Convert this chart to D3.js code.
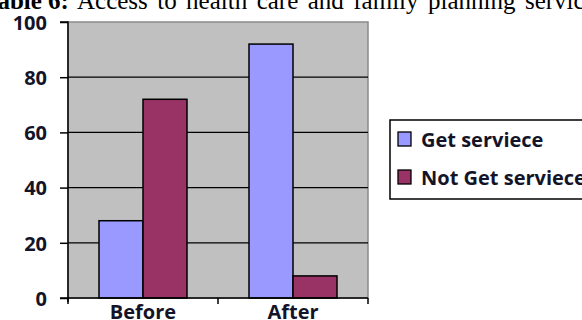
<!DOCTYPE html>
<html>
<head>
<meta charset="utf-8">
<script src="https://cdnjs.cloudflare.com/ajax/libs/d3/7.8.5/d3.min.js"></script>
<style>
  body { margin: 0; background: white; }
  svg { display: block; }
</style>
</head>
<body>
<script>
    "use strict";

    // data
    var categories = ["Before", "After"]
    var seriesNames = ["Get serviece", "Not Get serviece"]
    var getService = [28, 92]
    var notGetService = [72, 8]
    var yTicks = [0, 20, 40, 60, 80, 100]
    var colors = ["#9999ff", "#993366"]

    var width = 582
    var height = 320
    var plot = { left: 68, right: 368, top: 22, bottom: 298 }
    var labelFont = "'Open Sans', 'DejaVu Sans', sans-serif"
    var labelSize = "20px"

    var svg = d3.select("body").append("svg")
        .attr("width", width)
        .attr("height", height)

    // caption above the chart, top clipped like the scan (justified text -> extra word spacing)
    var caption = svg.append("text")
        .attr("x", -17)
        .attr("y", 9)
        .style("font-family", "'Liberation Serif', 'Times New Roman', serif")
        .style("font-size", "25px")
        .style("fill", "#000")
    caption.append("tspan").style("font-weight", "bold").text("Table 6:")
    caption.append("tspan").style("word-spacing", "3.2px")
        .text(" Access to health care and family planning services")

    var x0 = d3.scaleBand()
        .domain(categories)
        .range([plot.left, plot.right])

    var x1 = d3.scaleBand()
        .domain(seriesNames)
        .range([31, x0.bandwidth() - 31])

    var y = d3.scaleLinear()
        .domain([0, 100])
        .range([plot.bottom, plot.top])

    // plot area
    svg.append("rect")
        .attr("x", plot.left)
        .attr("y", plot.top)
        .attr("width", plot.right - plot.left)
        .attr("height", plot.bottom - plot.top)
        .style("fill", "#c0c0c0")
        .style("stroke", "#8a8a8a")
        .style("stroke-width", 1.5)

    // gridlines
    svg.append("g")
        .selectAll("line")
        .data(yTicks.filter(function(d) { return d > 0 && d < 100 }))
        .join("line")
        .attr("x1", plot.left)
        .attr("x2", plot.right)
        .attr("y1", function(d) { return y(d) })
        .attr("y2", function(d) { return y(d) })
        .style("stroke", "#000")
        .style("stroke-width", 1.3)

    // bars
    var rows = categories.map(function(c, i) {
        return [
            { cat: c, name: seriesNames[0], value: getService[i], color: colors[0] },
            { cat: c, name: seriesNames[1], value: notGetService[i], color: colors[1] }
        ]
    })

    svg.append("g")
        .selectAll("g")
        .data(rows)
        .join("g")
        .attr("transform", function(d) { return "translate(" + x0(d[0].cat) + ",0)" })
        .selectAll("rect")
        .data(function(d) { return d })
        .join("rect")
        .attr("x", function(d) { return x1(d.name) })
        .attr("width", x1.bandwidth())
        .attr("y", function(d) { return y(d.value) })
        .attr("height", function(d) { return y(0) - y(d.value) })
        .style("fill", function(d) { return d.color })
        .style("stroke", "#000")
        .style("stroke-width", 1.5)

    // y axis
    var yAxis = svg.append("g")
        .attr("transform", "translate(" + plot.left + ",0)")
        .call(d3.axisLeft(y).tickValues(yTicks).tickSize(8).tickPadding(13))
    yAxis.select(".domain").attr("d", "M-8," + y(100) + "H0V" + (y(0) + 4))
        .style("stroke", "#000").style("stroke-width", 1.5)
    yAxis.selectAll(".tick line").style("stroke", "#000").style("stroke-width", 1.5)
    yAxis.selectAll(".tick text")
        .attr("dy", "0.36em")
        .style("font-family", labelFont)
        .style("font-weight", "bold")
        .style("font-size", labelSize)
        .style("fill", "#141428")

    // x axis
    var xAxis = svg.append("g")
        .attr("transform", "translate(0," + plot.bottom + ")")
    xAxis.append("line")
        .attr("x1", plot.left - 8)
        .attr("x2", plot.right)
        .style("stroke", "#000")
        .style("stroke-width", 1.5)
    xAxis.selectAll(".xtick")
        .data(x0.domain().concat(["end"]))
        .join("line")
        .attr("class", "xtick")
        .attr("x1", function(d, i) { return plot.left + i * x0.bandwidth() })
        .attr("x2", function(d, i) { return plot.left + i * x0.bandwidth() })
        .attr("y1", 0)
        .attr("y2", 6)
        .style("stroke", "#000")
        .style("stroke-width", 1.5)
    xAxis.selectAll(".xlabel")
        .data(categories)
        .join("text")
        .attr("class", "xlabel")
        .attr("x", function(d) { return x0(d) + x0.bandwidth() / 2 })
        .attr("y", 21)
        .attr("text-anchor", "middle")
        .style("font-family", labelFont)
        .style("font-weight", "bold")
        .style("font-size", labelSize)
        .style("fill", "#141428")
        .text(function(d) { return d })

    // legend
    var legend = svg.append("g").attr("transform", "translate(390,120)")
    legend.append("rect")
        .attr("width", 220)
        .attr("height", 79)
        .style("fill", "#fff")
        .style("stroke", "#000")
        .style("stroke-width", 1.5)
    var items = legend.selectAll(".item")
        .data(seriesNames)
        .join("g")
        .attr("class", "item")
        .attr("transform", function(d, i) { return "translate(8," + (12 + i * 38) + ")" })
    items.append("rect")
        .attr("width", 13)
        .attr("height", 14)
        .style("fill", function(d, i) { return colors[i] })
        .style("stroke", "#000")
        .style("stroke-width", 1.3)
    items.append("text")
        .attr("x", 23)
        .attr("y", 15)
        .style("font-family", labelFont)
        .style("font-weight", "bold")
        .style("font-size", labelSize)
        .style("fill", "#141428")
        .text(function(d) { return d })
</script>
</body>
</html>
